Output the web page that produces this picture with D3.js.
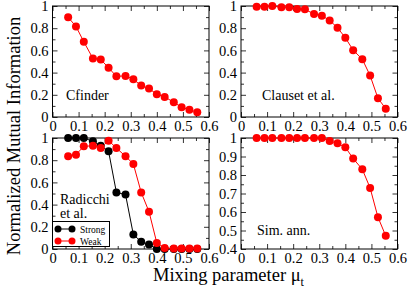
<!DOCTYPE html>
<html>
<head>
<meta charset="utf-8">
<script src="https://cdn.jsdelivr.net/npm/d3@7"></script>
<style>
  body { margin: 0; background: #fff; }
  svg { display: block; }
  svg text { font-family: "Liberation Serif", "Times New Roman", serif; }
</style>
</head>
<body>
<script>
// mixing parameter values (shared by every panel)
var mu = [0.06, 0.09, 0.12, 0.155, 0.185, 0.215, 0.245, 0.28, 0.31, 0.34, 0.37, 0.4, 0.43, 0.465, 0.495, 0.525, 0.555];

var cfinder = [0.898, 0.816, 0.678, 0.527, 0.518, 0.443, 0.367, 0.37, 0.34, 0.283, 0.256, 0.205, 0.181, 0.133, 0.087, 0.066, 0.042];
var clauset = [0.994, 0.994, 1.0, 0.988, 0.988, 0.973, 0.97, 0.928, 0.913, 0.87, 0.804, 0.714, 0.602, 0.521, 0.373, 0.169, 0.075];
var radStrong = [1.0, 1.0, 1.0, 0.97, 0.93, 0.88, 0.51, 0.49, 0.13, 0.066, 0.04, 0, 0, 0, 0, 0, 0];
var radWeak = [0.835, 0.85, 0.925, 0.93, 0.91, 0.976, 0.91, 0.835, 0.766, 0.51, 0.336, 0.054, 0.01, 0.005, 0.005, 0.005, 0.005];
var simann = [1, 1, 1, 1, 1, 1, 1, 1, 1, 0.984, 0.971, 0.95, 0.889, 0.831, 0.73, 0.572, 0.471];

var xTicks = [0, 0.1, 0.2, 0.3, 0.4, 0.5, 0.6];
var yTicks = [0, 0.2, 0.4, 0.6, 0.8, 1];
var yTicksSA = [0.4, 0.5, 0.6, 0.7, 0.8, 0.9, 1];

var W = 415, H = 302;
var svg = d3.select("body").append("svg").attr("width", W).attr("height", H);

var pw = 156.5, ph = 111;

function fmt(d) { return String(+d.toFixed(2)); }
function halves(t) {
  var out = [];
  for (var i = 0; i < t.length - 1; i++) out.push(+((t[i] + t[i + 1]) / 2).toFixed(3));
  return out;
}

function panel(left, top, yDom, yT, series, label, lx, ly) {
  var x = d3.scaleLinear().domain([0, 0.6]).range([left, left + pw]);
  var y = d3.scaleLinear().domain(yDom).range([top + ph, top]);
  var g = svg.append("g");

  // minor ticks
  var mx = halves(xTicks), my = halves(yT);
  g.append("g").attr("transform", "translate(0," + (top + ph) + ")")
    .call(d3.axisBottom(x).tickValues(mx).tickSize(-3).tickFormat(""));
  g.append("g").attr("transform", "translate(0," + top + ")")
    .call(d3.axisTop(x).tickValues(mx).tickSize(-3).tickFormat(""));
  g.append("g").attr("transform", "translate(" + left + ",0)")
    .call(d3.axisLeft(y).tickValues(my).tickSize(-3).tickFormat(""));
  g.append("g").attr("transform", "translate(" + (left + pw) + ",0)")
    .call(d3.axisRight(y).tickValues(my).tickSize(-3).tickFormat(""));

  // major ticks
  g.append("g").attr("class", "lab").attr("transform", "translate(0," + (top + ph) + ")")
    .call(d3.axisBottom(x).tickValues(xTicks).tickSize(-5).tickPadding(4).tickFormat(fmt));
  g.append("g").attr("transform", "translate(0," + top + ")")
    .call(d3.axisTop(x).tickValues(xTicks).tickSize(-5).tickFormat(""));
  g.append("g").attr("class", "lab").attr("transform", "translate(" + left + ",0)")
    .call(d3.axisLeft(y).tickValues(yT).tickSize(-5).tickPadding(4).tickFormat(fmt));
  g.append("g").attr("transform", "translate(" + (left + pw) + ",0)")
    .call(d3.axisRight(y).tickValues(yT).tickSize(-5).tickFormat(""));

  g.selectAll(".domain").remove();
  g.selectAll(".tick line").attr("stroke", "#333");
  g.selectAll(".lab").attr("font-family", null).attr("font-size", null);
  g.selectAll(".lab text").style("font-size", "14.5px").attr("fill", "#000");

  g.append("rect").attr("x", left).attr("y", top).attr("width", pw).attr("height", ph)
    .attr("fill", "none").attr("stroke", "#000").attr("stroke-width", 1);

  g.append("text").attr("x", lx).attr("y", ly).style("font-size", "14px").text(label);

  var line = d3.line().x(function (d, i) { return x(mu[i]); }).y(function (d) { return y(d); });
  series.forEach(function (s) {
    g.append("path").datum(s.v).attr("d", line).attr("fill", "none")
      .attr("stroke", s.c).attr("stroke-width", 1);
    g.selectAll(null).data(s.v).enter().append("circle")
      .attr("cx", function (d, i) { return x(mu[i]); })
      .attr("cy", function (d) { return y(d); })
      .attr("r", 4).attr("fill", s.c);
  });
  return { x: x, y: y, g: g };
}

panel(52.5, 6, [0, 1], yTicks, [{ v: cfinder, c: "#ff0000" }], "Cfinder", 66, 100);
panel(241, 6, [0, 1], yTicks, [{ v: clauset, c: "#ff0000" }], "Clauset et al.", 262, 100);
var p3 = panel(52.5, 138, [0, 1], yTicks, [{ v: radStrong, c: "#000" }, { v: radWeak, c: "#ff0000" }], "Radicchi", 60, 204);
p3.g.append("text").attr("x", 60).attr("y", 218).style("font-size", "14px").text("et al.");
panel(241, 138, [0.4, 1], yTicksSA, [{ v: simann, c: "#ff0000" }], "Sim. ann.", 257, 235);

// legend
var lg = svg.append("g");
lg.append("rect").attr("x", 52.5).attr("y", 221.5).attr("width", 57).attr("height", 25)
  .attr("fill", "#fff").attr("stroke", "#000").attr("stroke-width", 1);
[{ n: "Strong", c: "#000", yy: 229 }, { n: "Weak", c: "#ff0000", yy: 241 }].forEach(function (e) {
  lg.append("line").attr("x1", 58).attr("x2", 72).attr("y1", e.yy).attr("y2", e.yy).attr("stroke", e.c);
  lg.append("circle").attr("cx", 58).attr("cy", e.yy).attr("r", 3.5).attr("fill", e.c);
  lg.append("circle").attr("cx", 72).attr("cy", e.yy).attr("r", 3.5).attr("fill", e.c);
  lg.append("text").attr("x", 80).attr("y", e.yy + 3.5).style("font-size", "9.5px").text(e.n);
});

// axis titles
svg.append("text").attr("transform", "translate(20,136) rotate(-90)")
  .attr("text-anchor", "middle").style("font-size", "18.5px").text("Normalized Mutual Information");
var xt = svg.append("text").attr("x", 153).attr("y", 281).style("font-size", "18.5px");
xt.append("tspan").text("Mixing parameter \u03bc");
xt.append("tspan").style("font-size", "12px").attr("dy", 5).text("t");
</script>
</body>
</html>
